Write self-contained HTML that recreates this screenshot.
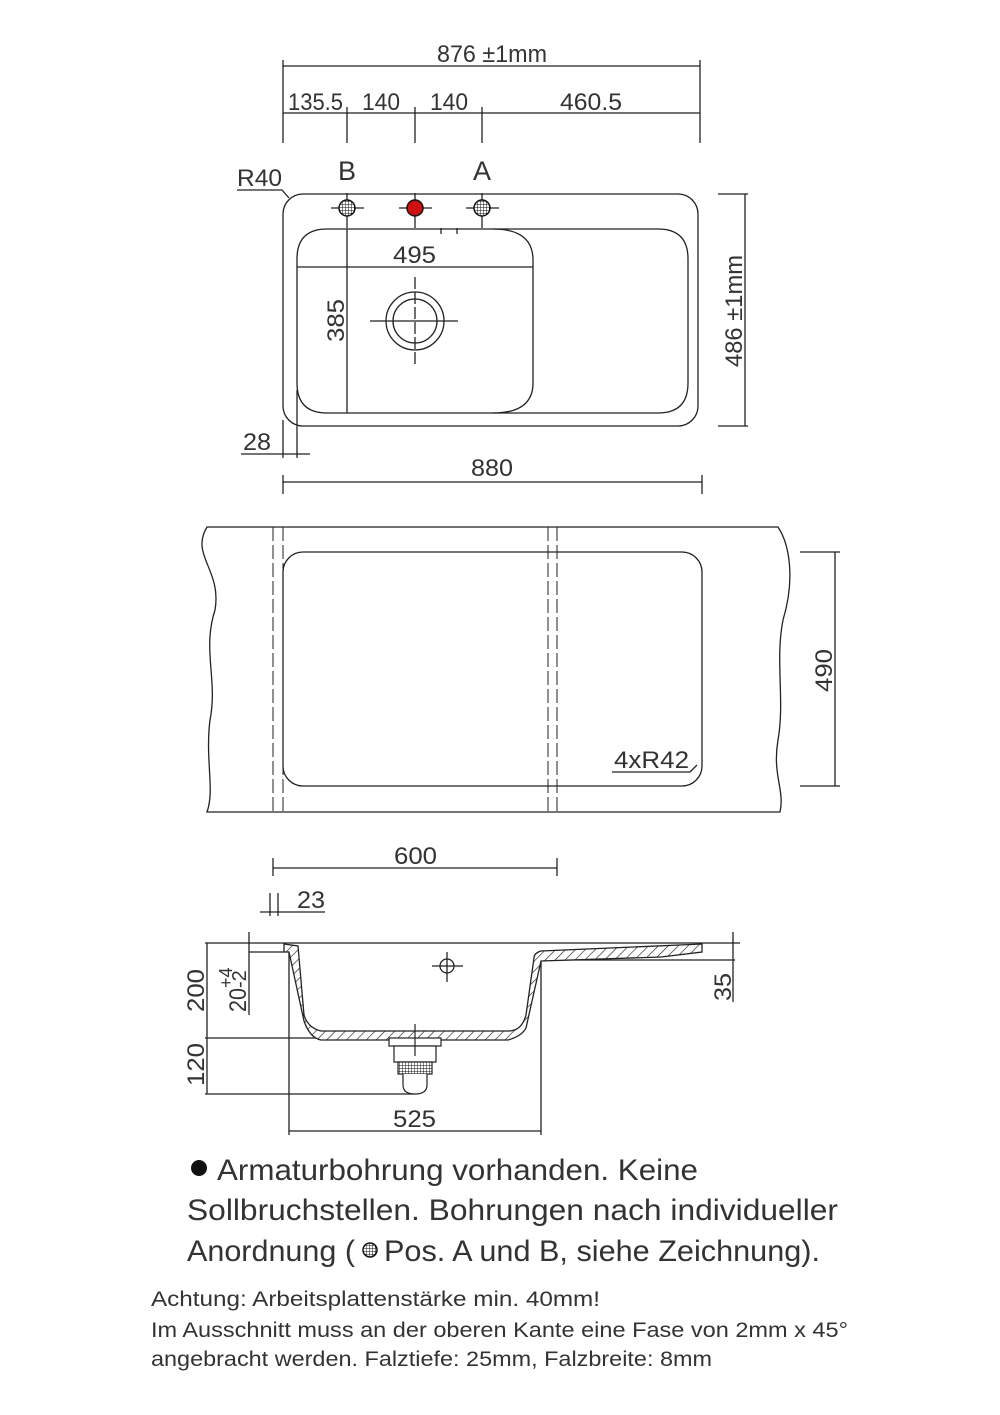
<!DOCTYPE html>
<html><head><meta charset="utf-8"><style>
html,body{margin:0;padding:0;background:#fff}
svg{display:block}
text{font-family:"Liberation Sans Narrow","Liberation Sans",sans-serif;fill:#333}
</style></head><body>
<svg width="1000" height="1415" viewBox="0 0 1000 1415" xmlns="http://www.w3.org/2000/svg">
<defs>
<pattern id="hatch" width="7" height="7" patternUnits="userSpaceOnUse" patternTransform="rotate(45)">
<rect width="7" height="7" fill="#fff"/><line x1="0" y1="0" x2="0" y2="7" stroke="#222" stroke-width="1.3"/>
</pattern>
<pattern id="grid" width="3" height="3" patternUnits="userSpaceOnUse">
<rect width="3" height="3" fill="#fff"/><path d="M0 0H3M0 0V3" stroke="#111" stroke-width="1"/>
</pattern>
</defs>
<g stroke="#222" stroke-width="1.3" fill="none">
<line x1="283" y1="66" x2="700" y2="66"/>
<line x1="283" y1="113" x2="700" y2="113"/>
<line x1="283" y1="60" x2="283" y2="143"/>
<line x1="700" y1="60" x2="700" y2="143"/>
<line x1="347" y1="107" x2="347" y2="143"/>
<line x1="415" y1="107" x2="415" y2="143"/>
<line x1="482" y1="107" x2="482" y2="143"/>
<polyline points="237,190 282,190 289,198"/>
<rect x="283" y="194" width="415" height="232" rx="20"/>
<path d="M327,229 H658 Q688,229 688,259 V383 Q688,413 658,413 H327 Q297,413 297,383 V259 Q297,229 327,229 Z"/>
<path d="M493,229 Q533,229 533,260 V383 Q533,413 493,413"/>
<line x1="331" y1="208" x2="364" y2="208"/><line x1="347" y1="193" x2="347" y2="228"/>
<line x1="399" y1="208" x2="432" y2="208"/><line x1="415" y1="193" x2="415" y2="228"/>
<line x1="466" y1="208" x2="499" y2="208"/><line x1="482" y1="193" x2="482" y2="228"/>
<line x1="457" y1="228" x2="457" y2="234"/><line x1="441" y1="228" x2="441" y2="234"/>
<line x1="297" y1="267" x2="533" y2="267"/>
<line x1="347" y1="229" x2="347" y2="413"/>
<circle cx="415" cy="321" r="29"/><circle cx="415" cy="321" r="22"/>
<line x1="370" y1="321" x2="458" y2="321"/><line x1="415" y1="277" x2="415" y2="365" stroke-dasharray="12,3"/>
<line x1="718" y1="194" x2="748" y2="194"/><line x1="718" y1="426" x2="748" y2="426"/>
<line x1="745" y1="194" x2="745" y2="426"/>
<line x1="283" y1="420" x2="283" y2="458"/><line x1="297" y1="390" x2="297" y2="458"/>
<line x1="241" y1="454" x2="310" y2="454"/>
<line x1="283" y1="482" x2="702" y2="482"/>
<line x1="283" y1="475" x2="283" y2="494"/><line x1="702" y1="475" x2="702" y2="494"/>
<path d="M207,527 H778 C790,545 795,580 783,620 C775,660 785,700 778,740 C772,775 785,790 780,812 H207 C215,790 205,760 210,720 C218,680 202,650 215,610 C222,570 190,555 207,527 Z"/>
<line x1="273" y1="527" x2="273" y2="812" stroke-dasharray="14,4" stroke-width="1"/>
<line x1="283" y1="527" x2="283" y2="812" stroke-dasharray="14,4" stroke-width="1"/>
<line x1="548" y1="527" x2="548" y2="812" stroke-dasharray="14,4" stroke-width="1"/>
<line x1="557" y1="527" x2="557" y2="812" stroke-dasharray="14,4" stroke-width="1"/>
<rect x="283" y="552" width="419" height="234" rx="20"/>
<polyline points="612,772 690,772 697,765"/>
<line x1="800" y1="552" x2="840" y2="552"/><line x1="800" y1="786" x2="840" y2="786"/>
<line x1="835" y1="552" x2="835" y2="786"/>
<line x1="273" y1="868" x2="557" y2="868"/>
<line x1="273" y1="858" x2="273" y2="876"/><line x1="557" y1="858" x2="557" y2="876"/>
<line x1="260" y1="912" x2="325" y2="912"/>
<line x1="270" y1="893" x2="270" y2="916"/><line x1="278" y1="893" x2="278" y2="916"/>
<line x1="205" y1="943" x2="740" y2="943"/>
<line x1="207" y1="943" x2="207" y2="1094"/>
<line x1="205" y1="1038" x2="500" y2="1038"/>
<line x1="205" y1="1094" x2="415" y2="1094"/>
<line x1="249" y1="932" x2="249" y2="1015"/>
<line x1="249" y1="952" x2="284" y2="952"/>
<line x1="733" y1="932" x2="733" y2="1002"/>
<line x1="540" y1="960" x2="735" y2="960"/>
<line x1="289" y1="952" x2="289" y2="1135"/>
<line x1="541" y1="960" x2="541" y2="1135"/>
<line x1="289" y1="1131" x2="541" y2="1131"/>
<circle cx="447" cy="966" r="7"/>
<line x1="432" y1="966" x2="463" y2="966"/><line x1="447" y1="952" x2="447" y2="982"/>
</g>
<path d="M284,944 L284,952 L289,952 L304,1021 Q310,1038 321,1040 L508,1040 Q522,1036 526,1028 L541,961 L661,957 L702,952 L702,944 L541,951 Q534,953 534,958 L526,1015 Q522,1030 510,1031 L321,1031 Q308,1028 304,1015 L298,946 Z" fill="url(#hatch)" stroke="#222" stroke-width="1.3"/>
<g stroke="#222" stroke-width="1.2" fill="#fff">
<rect x="389" y="1038" width="52" height="8"/>
<rect x="394" y="1046" width="42" height="16"/>
<rect x="398" y="1062" width="34" height="12" fill="url(#grid)"/>
<path d="M403,1074 V1085 Q403,1094 415,1094 Q427,1094 427,1085 V1074"/>
<line x1="415" y1="1024" x2="415" y2="1056"/>
</g>
<circle cx="347" cy="208" r="8" fill="url(#grid)" stroke="#111" stroke-width="1.5"/>
<circle cx="415" cy="208" r="8" fill="#d01010" stroke="#111" stroke-width="1.5"/>
<circle cx="482" cy="208" r="8" fill="url(#grid)" stroke="#111" stroke-width="1.5"/>
<g font-size="24">
<text x="437" y="62" textLength="110" lengthAdjust="spacingAndGlyphs">876 ±1mm</text>
<text x="288" y="110" textLength="55" lengthAdjust="spacingAndGlyphs">135.5</text>
<text x="362" y="110" textLength="38" lengthAdjust="spacingAndGlyphs">140</text>
<text x="430" y="110" textLength="38" lengthAdjust="spacingAndGlyphs">140</text>
<text x="560" y="110" textLength="62" lengthAdjust="spacingAndGlyphs">460.5</text>
<text x="237" y="186" textLength="45" lengthAdjust="spacingAndGlyphs">R40</text>
<text x="338" y="180" font-size="27">B</text>
<text x="473" y="180" font-size="27">A</text>
<text x="393" y="263" textLength="43" lengthAdjust="spacingAndGlyphs">495</text>
<text transform="translate(344,342) rotate(-90)" textLength="43" lengthAdjust="spacingAndGlyphs">385</text>
<text transform="translate(742,367) rotate(-90)" textLength="112" lengthAdjust="spacingAndGlyphs">486 ±1mm</text>
<text x="243" y="450" textLength="28" lengthAdjust="spacingAndGlyphs">28</text>
<text x="471" y="476" textLength="42" lengthAdjust="spacingAndGlyphs">880</text>
<text transform="translate(832,692) rotate(-90)" textLength="43" lengthAdjust="spacingAndGlyphs">490</text>
<text x="614" y="768" textLength="75" lengthAdjust="spacingAndGlyphs">4xR42</text>
<text x="394" y="864" textLength="43" lengthAdjust="spacingAndGlyphs">600</text>
<text x="297" y="908" textLength="28" lengthAdjust="spacingAndGlyphs">23</text>
<text transform="translate(204,1012) rotate(-90)" textLength="43" lengthAdjust="spacingAndGlyphs">200</text>
<text transform="translate(204,1086) rotate(-90)" textLength="43" lengthAdjust="spacingAndGlyphs">120</text>
<text transform="translate(246,1012) rotate(-90)" textLength="24" lengthAdjust="spacingAndGlyphs">20</text>
<text transform="translate(246,988) rotate(-90)" font-size="20">-2</text>
<text transform="translate(232,988) rotate(-90)" font-size="18">+4</text>
<text transform="translate(731,1001) rotate(-90)" textLength="28" lengthAdjust="spacingAndGlyphs">35</text>
<text x="393" y="1127" textLength="43" lengthAdjust="spacingAndGlyphs">525</text>
</g>
<circle cx="199" cy="1168" r="8" fill="#111"/>
<g font-size="30">
<text x="217" y="1180" textLength="481" lengthAdjust="spacingAndGlyphs">Armaturbohrung vorhanden. Keine</text>
<text x="187" y="1220" textLength="651" lengthAdjust="spacingAndGlyphs">Sollbruchstellen. Bohrungen nach individueller</text>
<text x="187" y="1261" textLength="168" lengthAdjust="spacingAndGlyphs">Anordnung (</text>
<text x="384" y="1261" textLength="436" lengthAdjust="spacingAndGlyphs">Pos. A und B, siehe Zeichnung).</text>
</g>
<circle cx="370" cy="1250" r="7" fill="url(#grid)" stroke="#111" stroke-width="1.5"/>
<g font-size="21">
<text x="151" y="1306" textLength="449" lengthAdjust="spacingAndGlyphs">Achtung: Arbeitsplattenstärke min. 40mm!</text>
<text x="151" y="1337" textLength="697" lengthAdjust="spacingAndGlyphs">Im Ausschnitt muss an der oberen Kante eine Fase von 2mm x 45°</text>
<text x="151" y="1366" textLength="561" lengthAdjust="spacingAndGlyphs">angebracht werden. Falztiefe: 25mm, Falzbreite: 8mm</text>
</g>
</svg>
</body></html>
